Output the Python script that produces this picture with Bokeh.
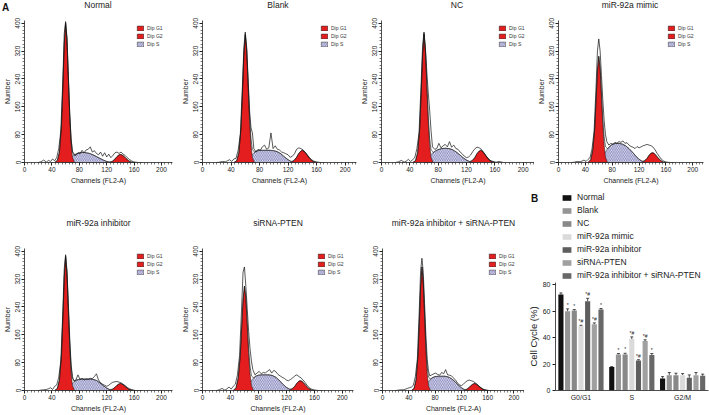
import numpy as np
from bokeh.plotting import figure
from bokeh.layouts import row, column
from bokeh.models import (Range1d, FixedTicker, Legend, LegendItem, Whisker, Div,
                          ColumnDataSource, TeeHead)
from bokeh.embed import file_html
from bokeh.resources import INLINE
from bokeh.core.properties import value

FONT = "Liberation Sans"
RED = "#e41e1e"

# ---------------- Panel A: flow-cytometry histograms ----------------
RAW_CH = [20, 24, 28, 32, 35, 38, 41, 44, 47, 50, 53, 56, 58, 60, 62, 64, 66, 68, 70, 72,
          75, 78, 81, 84, 87, 90, 93, 96, 99, 102, 105, 108, 111, 114, 117, 120, 123, 126,
          129, 132, 135, 138, 141, 144, 147, 150, 153, 156, 159, 162, 166, 172]
G1_CH = [44, 48, 51, 54, 56, 58, 60, 62, 64, 66, 68, 70, 73]
S_CH = [60, 64, 68, 72, 76, 80, 85, 90, 95, 100, 105, 110, 115, 120, 125, 130]
G2_CH = [124, 128, 132, 135, 138, 140, 142, 145, 148, 152, 156, 160]

X_TICKS = [0, 40, 80, 120, 160, 200]
Y_TICKS = [0, 80, 160, 240, 320, 400]

PANEL_TITLES = ["Normal", "Blank", "NC", "miR-92a mimic", "miR-92a inhibitor",
                "siRNA-PTEN", "miR-92a inhibitor + siRNA-PTEN"]

NORMAL_G1 = [0, 6, 30, 110, 220, 340, 400, 350, 240, 130, 55, 15, 0]
BLANK_G1 = [0, 5, 28, 100, 200, 310, 368, 320, 220, 120, 50, 14, 0]
NC_G1 = [0, 5, 28, 100, 200, 310, 370, 320, 220, 120, 50, 14, 0]
MIMIC_G1 = [0, 8, 35, 100, 180, 265, 305, 270, 190, 110, 50, 15, 0]
INHIB_G1 = [0, 6, 30, 105, 210, 325, 385, 335, 230, 125, 52, 14, 0]
SIRNA_G1 = [0, 8, 35, 100, 180, 260, 300, 265, 185, 105, 48, 14, 0]
COMBO_G1 = [0, 6, 30, 100, 195, 300, 355, 310, 215, 115, 48, 13, 0]

NORMAL_S = [0, 6, 14, 21, 25, 28, 29, 28, 26, 22, 17, 12, 7, 3, 1, 0]
BLANK_S = [0, 8, 18, 28, 33, 35, 35, 35, 35, 34, 31, 25, 16, 8, 2, 0]
NC_S = [0, 8, 18, 27, 33, 37, 40, 41, 40, 37, 31, 23, 14, 7, 2, 0]
MIMIC_S = [0, 10, 24, 37, 46, 52, 55, 55, 53, 48, 40, 30, 19, 9, 3, 0]
INHIB_S = [0, 7, 16, 25, 30, 32, 33, 33, 33, 32, 29, 22, 14, 7, 2, 0]
SIRNA_S = [0, 10, 22, 34, 41, 44, 45, 45, 45, 43, 38, 29, 18, 9, 3, 0]
COMBO_S = [0, 9, 20, 31, 37, 40, 41, 41, 41, 39, 34, 26, 16, 8, 2, 0]

NORMAL_G2 = [0, 3, 10, 17, 22, 23, 22, 18, 12, 5, 1, 0]
BLANK_G2 = [0, 5, 15, 26, 33, 35, 33, 26, 18, 8, 2, 0]
NC_G2 = [0, 5, 15, 26, 33, 35, 33, 26, 18, 8, 2, 0]
MIMIC_G2 = [0, 4, 12, 21, 27, 28, 27, 21, 14, 6, 1, 0]
INHIB_G2 = [0, 3, 9, 15, 19, 20, 19, 15, 10, 4, 1, 0]
SIRNA_G2 = [0, 4, 12, 21, 27, 28, 27, 21, 14, 6, 1, 0]
COMBO_G2 = [0, 3, 9, 15, 19, 20, 19, 15, 10, 4, 1, 0]

NORMAL_RAW = [0, 2, 7, 1, 6, 3, 10, 5, 14, 40, 90, 240, 370, 405, 360, 250, 140, 65, 30, 22,
              20, 28, 25, 35, 28, 36, 38, 45, 30, 34, 26, 22, 30, 18, 28, 16, 24, 14, 20, 28,
              30, 26, 30, 24, 20, 14, 9, 5, 2, 1, 0, 0]
BLANK_RAW = [0, 1, 3, 2, 5, 8, 3, 10, 12, 35, 80, 220, 330, 375, 330, 240, 150, 100, 85, 40,
             30, 38, 35, 45, 50, 38, 42, 85, 40, 48, 38, 36, 30, 28, 25, 22, 15, 18, 25, 38,
             42, 40, 36, 30, 22, 14, 8, 4, 2, 1, 0, 0]
NC_RAW = [0, 2, 6, 1, 4, 9, 3, 8, 14, 40, 85, 230, 335, 375, 330, 260, 200, 150, 90, 45,
          38, 40, 55, 42, 48, 52, 45, 60, 44, 50, 40, 38, 30, 25, 18, 14, 16, 22, 32, 40,
          44, 42, 38, 30, 20, 12, 6, 4, 2, 1, 3, 0]
MIMIC_RAW = [0, 1, 3, 2, 4, 7, 3, 9, 14, 40, 90, 220, 320, 355, 320, 250, 180, 120, 80, 60,
             50, 55, 52, 58, 55, 60, 58, 62, 55, 57, 50, 46, 44, 40, 46, 42, 45, 48, 50, 52,
             50, 48, 44, 36, 26, 18, 10, 5, 2, 1, 0, 0]
INHIB_RAW = [0, 1, 2, 3, 5, 8, 3, 12, 16, 38, 85, 230, 350, 390, 345, 250, 150, 75, 40, 28,
             30, 45, 32, 35, 30, 33, 32, 35, 34, 40, 48, 30, 22, 18, 15, 12, 15, 20, 24, 25,
             26, 24, 22, 18, 14, 9, 5, 3, 1, 0, 0, 0]
SIRNA_RAW = [0, 2, 6, 1, 5, 10, 4, 12, 18, 45, 100, 240, 340, 355, 300, 235, 170, 120, 85, 60,
             45, 50, 55, 48, 52, 50, 56, 60, 50, 58, 54, 46, 42, 38, 35, 30, 28, 32, 36, 42,
             45, 40, 36, 30, 22, 14, 8, 4, 2, 1, 0, 0]
COMBO_RAW = [0, 1, 2, 2, 4, 6, 8, 10, 15, 40, 90, 235, 345, 380, 340, 250, 160, 90, 55, 42,
             45, 48, 50, 46, 44, 52, 48, 60, 45, 44, 42, 36, 30, 22, 16, 14, 18, 24, 28, 30,
             28, 26, 22, 18, 12, 8, 4, 2, 1, 0, 0, 0]

# ---------------- Panel B: cell-cycle bar chart ----------------
PHASES = ["G0/G1", "S", "G2/M"]
BAR_GROUPS = ["Normal", "Blank", "NC", "miR-92a mimic", "miR-92a inhibitor",
              "siRNA-PTEN", "miR-92a inhibitor + siRNA-PTEN"]
BAR_COLORS = ["#111111", "#959595", "#888888", "#dadada", "#5e5e5e", "#a0a0a0", "#686868"]
G0G1_PCT = [72.7, 60.0, 60.5, 48.8, 67.6, 50.2, 61.3]
G0G1_ERR = [1.2, 1.8, 0.8, 0.6, 2.2, 1.0, 0.8]
S_PCT = [17.8, 27.2, 27.2, 39.0, 22.7, 37.4, 26.8]
S_ERR = [0.3, 0.8, 1.0, 1.6, 0.6, 1.0, 1.2]
G2M_PCT = [9.0, 11.6, 11.6, 11.6, 9.6, 11.6, 11.1]
G2M_ERR = [1.5, 2.0, 1.5, 1.2, 2.2, 2.0, 1.3]
G0G1_SIG = ["", "*", "*", "*#", "*#", "*#", "*"]
S_SIG = ["", "*", "*", "*#", "*#", "*#", "*"]
G2M_SIG = ["", "", "", "", "", "", ""]


def style_axis(ax, tick_size="6.5px", label_size="7px"):
    ax.axis_line_color = "#222222"
    ax.axis_line_width = 0.8
    ax.major_tick_line_color = "#222222"
    ax.major_tick_out = 3
    ax.major_tick_in = 0
    ax.minor_tick_line_color = "#222222"
    ax.minor_tick_out = 2
    ax.minor_tick_in = 0
    ax.minor_tick_line_width = 0.6
    ax.major_label_text_font = FONT
    ax.major_label_text_font_size = tick_size
    ax.major_label_text_color = "#222222"
    ax.major_label_standoff = 1
    ax.axis_label_text_font = FONT
    ax.axis_label_text_font_size = label_size
    ax.axis_label_text_font_style = "normal"
    ax.axis_label_text_color = "#222222"
    ax.axis_label_standoff = 2


def hist_panel(title, g1, s, g2, raw, L, W, R, top, H, bottom, standoff):
    p = figure(width=L + W + R, height=top + H + bottom,
               x_range=Range1d(0, 216), y_range=Range1d(0, 408),
               output_backend="svg", toolbar_location=None,
               min_border_left=L, min_border_right=R,
               min_border_top=top, min_border_bottom=bottom)
    if title:
        p.title.text = title
        p.title.align = "center"
        p.title.text_font = FONT
        p.title.text_font_size = "8.5px"
        p.title.text_font_style = "normal"
        p.title.text_color = "#222222"
        p.title.standoff = standoff
    p.outline_line_color = None
    p.border_fill_color = None
    p.background_fill_color = None
    p.xgrid.visible = False
    p.ygrid.visible = False

    s_r = p.patch(S_CH, s, fill_color="#ececf8", hatch_pattern="\\", hatch_color="#3a3a90",
                  hatch_scale=3.5, hatch_weight=0.6, line_color="#333333", line_width=0.5)
    g1_r = p.patch(G1_CH, g1, fill_color=RED, line_color="#111111", line_width=0.5)
    g2_r = p.patch(G2_CH, g2, fill_color=RED, line_color="#111111", line_width=0.5)

    fx = np.arange(44, 163, 1.0)
    fit = (np.interp(fx, G1_CH, g1, left=0, right=0) + np.interp(fx, S_CH, s, left=0, right=0)
           + np.interp(fx, G2_CH, g2, left=0, right=0))
    p.line(fx, fit, line_color="#111111", line_width=0.6)
    p.line(RAW_CH, raw, line_color="#111111", line_width=0.7)

    leg = Legend(items=[LegendItem(label="Dip G1", renderers=[g1_r]),
                        LegendItem(label="Dip G2", renderers=[g2_r]),
                        LegendItem(label="Dip S", renderers=[s_r])],
                 location="top_right", glyph_width=8, glyph_height=6, label_height=6,
                 label_text_font=FONT, label_text_font_size="5px", label_text_color="#333333",
                 label_standoff=3, spacing=2, padding=0, margin=5,
                 border_line_color=None, background_fill_alpha=0)
    p.add_layout(leg)

    p.xaxis.ticker = FixedTicker(ticks=X_TICKS, minor_ticks=list(range(0, 216, 5)))
    p.yaxis.ticker = FixedTicker(ticks=Y_TICKS, minor_ticks=list(range(0, 408, 10)))
    p.xaxis.axis_label = "Channels (FL2-A)"
    p.yaxis.axis_label = "Number"
    p.yaxis.major_label_orientation = "vertical"
    style_axis(p.xaxis[0])
    style_axis(p.yaxis[0])
    return p


G1S = [NORMAL_G1, BLANK_G1, NC_G1, MIMIC_G1, INHIB_G1, SIRNA_G1, COMBO_G1]
SS = [NORMAL_S, BLANK_S, NC_S, MIMIC_S, INHIB_S, SIRNA_S, COMBO_S]
G2S = [NORMAL_G2, BLANK_G2, NC_G2, MIMIC_G2, INHIB_G2, SIRNA_G2, COMBO_G2]
RAWS = [NORMAL_RAW, BLANK_RAW, NC_RAW, MIMIC_RAW, INHIB_RAW, SIRNA_RAW, COMBO_RAW]

ROW1_W = [(23, 149, 6), (23, 155, 1), (23, 154, 0), (23, 146, 6)]
ROW2_W = [(23, 149, 6), (24, 151, 5), (23, 143, 0)]
FRAME_H = 142

panels = []
for i in range(4):
    L, W, R = ROW1_W[i]
    # row-1 titles are written in the header strip below (same text, placed higher)
    panels.append(hist_panel(None, G1S[i], SS[i], G2S[i], RAWS[i],
                             L, W, R, 20, FRAME_H, 28, 0))
for j in range(3):
    i = 4 + j
    L, W, R = ROW2_W[j]
    panels.append(hist_panel(PANEL_TITLES[i], G1S[i], SS[i], G2S[i], RAWS[i],
                             L, W, R, 58, FRAME_H, 25, 41))

# header strip: panel letter "A" and the titles of the first row (drawn behind the
# transparent first-row panels, occupying no layout height)
hdr = ['<div style="position:relative;width:709px;height:14px;'
       'font-family:\'Liberation Sans\';color:#222">',
       '<span style="position:absolute;left:2px;top:3px;font-weight:bold;font-size:10px;'
       'line-height:10px;color:#111">A</span>']
x0 = 0
for i in range(4):
    L, W, R = ROW1_W[i]
    cx = x0 + L + W / 2
    hdr.append('<span style="position:absolute;left:%dpx;width:120px;top:0px;'
               'text-align:center;font-size:8.5px;line-height:10px;white-space:nowrap">%s</span>'
               % (int(round(cx - 60)), PANEL_TITLES[i]))
    x0 += L + W + R
hdr.append('</div>')
head_div = Div(text="".join(hdr), width=709, height=14, margin=(0, 0, -14, 0))

# ---- bar chart legend (own small figure) ----
BL, BW, BR = 26, 158, 1
LEG_H = 90
pl = figure(width=BL + BW + BR, height=LEG_H, x_range=Range1d(0, 1), y_range=Range1d(0, 1),
            output_backend="svg", toolbar_location=None, x_axis_type=None, y_axis_type=None,
            min_border_left=BL, min_border_right=BR, min_border_top=0, min_border_bottom=0)
pl.outline_line_color = None
pl.xgrid.visible = False
pl.ygrid.visible = False
pl.border_fill_color = None
pl.background_fill_color = None
leg_items = []
for i, grp in enumerate(BAR_GROUPS):
    rr = pl.vbar(x=[-1], top=[0], width=0.1, fill_color=BAR_COLORS[i], line_color=None)
    leg_items.append(LegendItem(label=grp, renderers=[rr]))
bleg = Legend(items=leg_items, location=(6, 0), orientation="vertical",
              glyph_width=11, glyph_height=7, label_height=8, spacing=3,
              label_text_font=FONT, label_text_font_size="8.5px", label_text_color="#222222",
              label_standoff=5, padding=0, margin=0, border_line_color=None,
              background_fill_alpha=0)
pl.add_layout(bleg)

b_div = Div(text='<div style="padding:0 0 0 7px;font:bold 10px \'Liberation Sans\';'
                 'line-height:10px;color:#111">B</div>',
            width=20, height=12, margin=(0, 0, -12, 0))

# ---- bar chart ----
BT, BH, BB = 2, 108, 25
pb = figure(width=BL + BW + BR, height=BT + BH + BB,
            x_range=Range1d(0.499, 3.509), y_range=Range1d(0, 81.8),
            output_backend="svg", toolbar_location=None,
            min_border_left=BL, min_border_right=BR, min_border_top=BT, min_border_bottom=BB)
pb.outline_line_color = None
pb.xgrid.visible = False
pb.ygrid.visible = False

slot = 0.1314
for i, grp in enumerate(BAR_GROUPS):
    xs = [k + 1 + (i - 3) * slot for k in range(len(PHASES))]
    tops = [G0G1_PCT[i], S_PCT[i], G2M_PCT[i]]
    errs = [G0G1_ERR[i], S_ERR[i], G2M_ERR[i]]
    sig = [G0G1_SIG[i], S_SIG[i], G2M_SIG[i]]
    src = ColumnDataSource(dict(x=xs, top=tops, upper=[t + e for t, e in zip(tops, errs)], sig=sig))
    pb.vbar(x="x", top="top", width=0.101, source=src, fill_color=BAR_COLORS[i], line_color=None)
    pb.add_layout(Whisker(source=src, base="x", upper="upper", lower="top",
                          line_color="#222222", line_width=0.8,
                          upper_head=TeeHead(size=3, line_width=0.8, line_color="#222222"),
                          lower_head=None))
    pb.text(x="x", y="upper", text="sig", source=src, text_font=value(FONT),
            text_font_size="5px", text_align="center", text_baseline="bottom",
            text_color="#222222", y_offset=-1)

pb.xaxis.ticker = FixedTicker(ticks=[1, 2, 3])
pb.xaxis.major_label_overrides = {k + 1: ph for k, ph in enumerate(PHASES)}
pb.yaxis.ticker = FixedTicker(ticks=[0, 20, 40, 60, 80])
pb.yaxis.axis_label = "Cell Cycle (%)"
style_axis(pb.xaxis[0], tick_size="7px")
style_axis(pb.yaxis[0], tick_size="7px", label_size="9.5px")
pb.xaxis.major_tick_out = 0
pb.xaxis.major_label_standoff = 3
pb.yaxis.major_label_standoff = 2
pb.yaxis.axis_label_standoff = 1

right_col = column(b_div, pl, pb, spacing=0)
layout = column(head_div,
                row(*panels[:4], spacing=0),
                row(*panels[4:], right_col, spacing=0), spacing=0)
open("out.html", "w").write(file_html(layout, INLINE))
